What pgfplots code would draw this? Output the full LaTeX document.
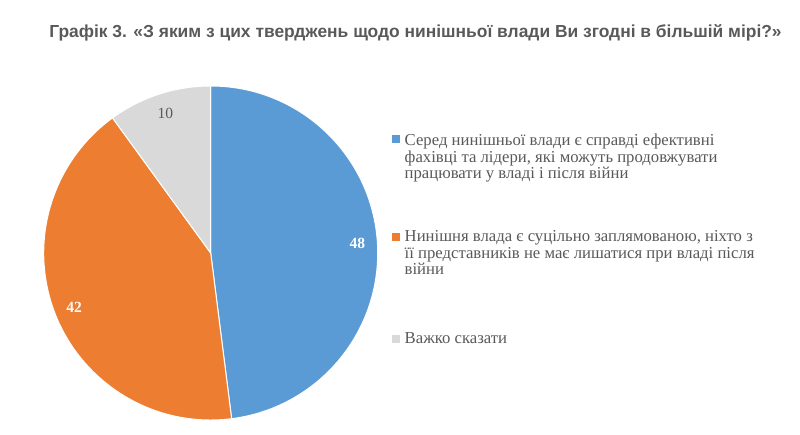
\documentclass[border=0pt]{standalone}
\usepackage{fontspec}
\setmainfont{Liberation Serif}
\newfontfamily\titlefont{Liberation Sans}
\usepackage{pgfplots}
\usepackage{pgfplotstable}
\usetikzlibrary{calc}
\pgfplotsset{compat=1.18}

\definecolor{slice0}{RGB}{91,155,213}
\definecolor{slice1}{RGB}{237,125,49}
\definecolor{slice2}{RGB}{217,217,217}
\definecolor{txtgray}{RGB}{89,89,89}

\pgfplotstableread{
share
48
42
10
}\piedata

\newcommand\legtext[1]{\begin{tabular}[t]{@{}l@{}}#1\end{tabular}}

\begin{document}
\begin{tikzpicture}[x=1pt,y=1pt]
\path[use as bounding box] (0,0) rectangle (800,434);

\node[font=\titlefont\bfseries\fontsize{17.4}{20}\selectfont, text=txtgray]
  at (415.5,401) {Графік 3. «З яким з цих тверджень щодо нинішньої влади Ви згодні в більшій мірі?»};

\begin{axis}[
    hide axis, scale only axis,
    width=334pt, height=334pt,
    xmin=-1, xmax=1, ymin=-1, ymax=1,
    at={(210.7pt,181pt)}, anchor=center,
    clip=false,
]
\addplot[draw=none] coordinates {(0,0)};
\def\R{167pt}
\def\angA{90}
\pgfplotsforeachungrouped \i in {0,1,2} {
  \pgfplotstablegetelem{\i}{share}\of\piedata
  \let\val\pgfplotsretval
  \pgfmathsetmacro\angB{\angA-3.6*\val}
  \pgfmathsetmacro\angM{(\angA+\angB)/2}
  \ifnum\i=2
    \def\lblcolor{txtgray}\def\lblfont{}
  \else
    \def\lblcolor{white}\def\lblfont{\noexpand\bfseries}
  \fi
  \edef\slice{%
    \noexpand\fill[slice\i, draw=white, line width=1pt]
      (axis cs:0,0) -- ++(\angA:\R)
      arc[start angle=\angA, end angle=\angB, radius=\R] -- cycle;
    \noexpand\node[text=\lblcolor, font=\noexpand\fontsize{15.5}{18}\noexpand\selectfont\lblfont]
      at ($(axis cs:0,0)+(\angM:0.88*\R)$) {\val};
  }
  \slice
  \global\let\angA\angB
}
\end{axis}

\begin{scope}[font=\fontsize{16.7}{16.4}\selectfont, text=txtgray]
\fill[slice0] (391.5,434-143.5) rectangle ++(8.3,8.3);
\node[anchor=base west, inner sep=0pt] at (404.5,434-145.7)
  {\legtext{Серед нинішньої влади є справді ефективні\\фахівці та лідери, які можуть продовжувати\\працювати у владі і після війни}};
\fill[slice1] (391.5,434-241) rectangle ++(8.3,8.3);
\node[anchor=base west, inner sep=0pt] at (404.5,434-241.7)
  {\legtext{Нинішня влада є суцільно заплямованою, ніхто з\\її представників не має лишатися при владі після\\війни}};
\fill[slice2] (391.5,434-343) rectangle ++(8.3,8.3);
\node[anchor=base west, inner sep=0pt] at (404.5,434-343.3)
  {Важко сказати};
\end{scope}
\end{tikzpicture}
\end{document}
